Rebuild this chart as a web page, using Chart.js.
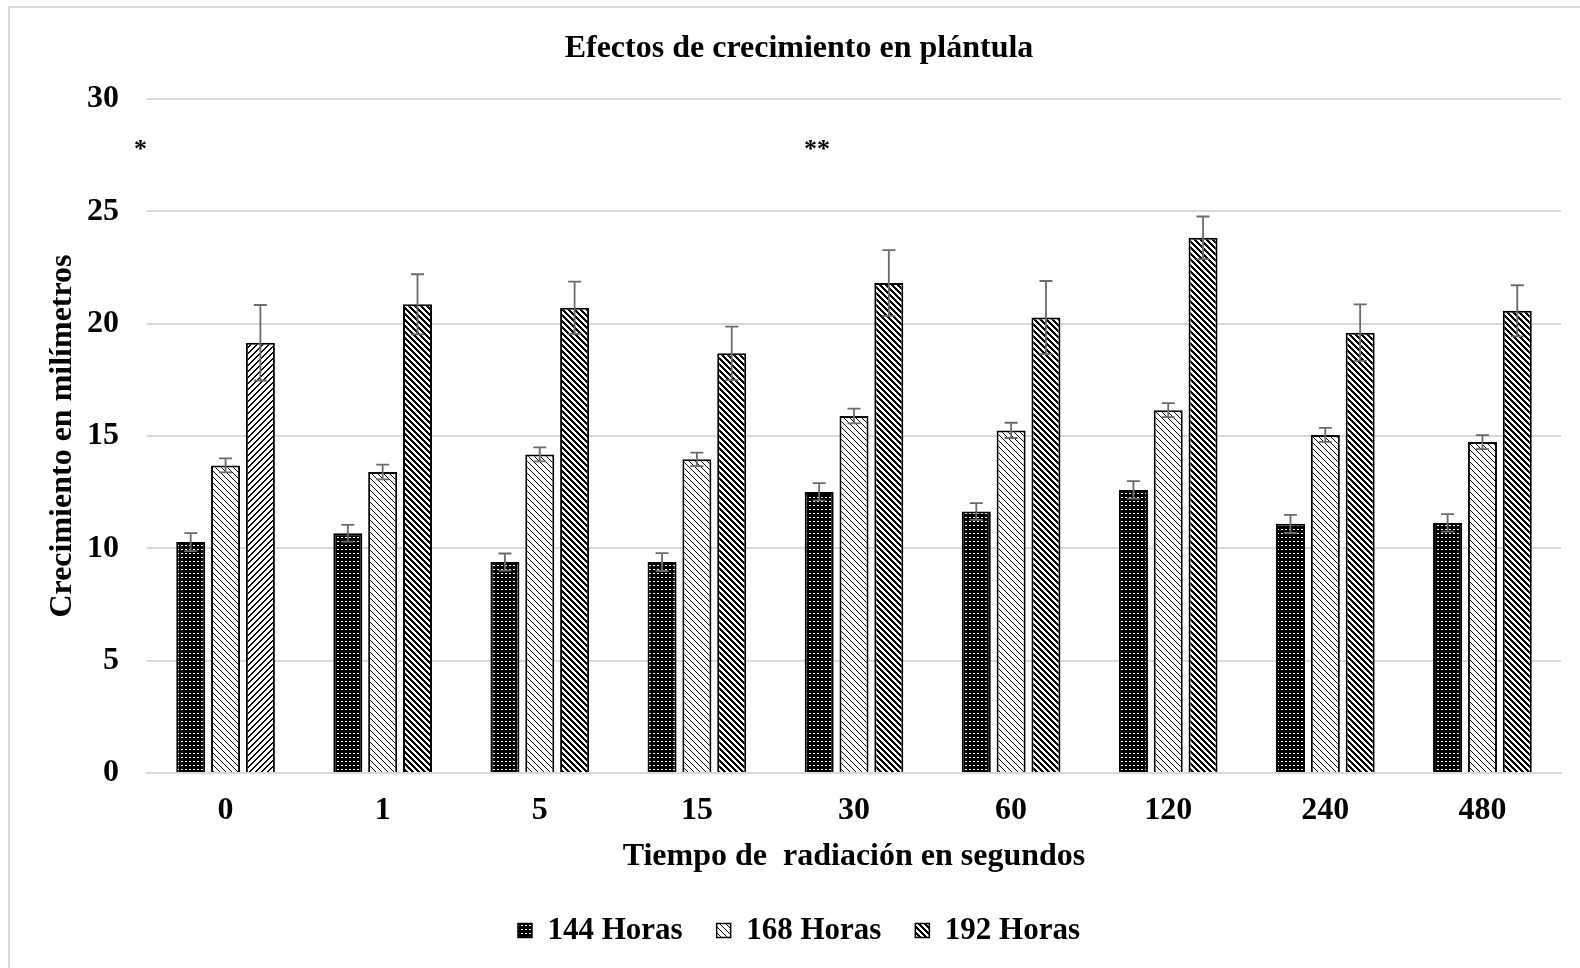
<!DOCTYPE html>
<html>
<head>
<meta charset="utf-8">
<script src="https://cdn.jsdelivr.net/npm/chart.js@4"></script>
<style>
  html, body { margin: 0; padding: 0; background: #fff; overflow: hidden; }
  #wrap { position: relative; width: 1580px; height: 968px; }
  #frame { position: absolute; left: 8px; top: 6px; width: 1600px; height: 1000px;
           border: 2px solid #d9d9d9; pointer-events: none; }
</style>
</head>
<body>
<div id="wrap">
  <canvas id="growthChart" width="1580" height="968"></canvas>
  <div id="frame"></div>
</div>
<script>
// categorias (segundos de radiacion)
const categories = ['0', '1', '5', '15', '30', '60', '120', '240', '480'];

// medias por serie
const h144 = [10.28, 10.67, 9.39, 9.39, 12.51, 11.64, 12.60, 11.09, 11.13];
const h168 = [13.69, 13.40, 14.18, 13.96, 15.89, 15.25, 16.15, 15.05, 14.73];
const h192 = [19.15, 20.86, 20.71, 18.68, 21.81, 20.27, 23.82, 19.60, 20.57];

// barras de error
const err144 = [0.40, 0.37, 0.38, 0.40, 0.39, 0.37, 0.39, 0.40, 0.39];
const err168 = [0.31, 0.33, 0.31, 0.30, 0.33, 0.34, 0.31, 0.31, 0.31];
const err192 = [1.68, 1.34, 1.16, 1.19, 1.46, 1.63, 0.95, 1.26, 1.14];

const yTicks = [0, 5, 10, 15, 20, 25, 30];

// asteriscos de significancia
const marks = [
    { text: '*', cat: 0, dx: -85, value: 27.7 },
    { text: '**', cat: 4, dx: -37, value: 27.7 }
];

const serif = "'Liberation Serif', 'Times New Roman', serif";

function makePattern(size, isBlack, bg, fg) {
    const c = document.createElement('canvas');
    c.width = size; c.height = size;
    const g = c.getContext('2d');
    g.fillStyle = bg;
    g.fillRect(0, 0, size, size);
    g.fillStyle = fg;
    for (let y = 0; y < size; y++) {
        for (let x = 0; x < size; x++) {
            if (isBlack(x, y)) g.fillRect(x, y, 1, 1);
        }
    }
    return g.createPattern(c, 'repeat');
}

const mod = (a, n) => ((a % n) + n) % n;
// punteado: negro con puntos blancos
const patDots = makePattern(4, (x, y) => (x === 1 || x === 2) && y === 1, '#000', '#fff');
// diagonal fina "\"
const patLight = makePattern(6, (x, y) => mod(x - y, 6) === 0, '#fff', '#000');
// diagonal ancha "\"
const patWide = makePattern(6, (x, y) => mod(x - y, 6) < 3, '#fff', '#000');
// diagonal ancha "/" (primer grupo)
const patWideUp = makePattern(6, (x, y) => mod(x + y, 6) < 2, '#fff', '#000');
const legendFills = [patDots, patLight, patWide];

const errorBars = {
    id: 'errorBars',
    afterDatasetsDraw(chart) {
        const ctx = chart.ctx;
        const yScale = chart.scales.y;
        const errs = [err144, err168, err192];
        ctx.save();
        ctx.strokeStyle = '#6b6b6b';
        ctx.lineWidth = 1.8;
        chart.data.datasets.forEach((ds, i) => {
            const meta = chart.getDatasetMeta(i);
            meta.data.forEach((bar, j) => {
                const v = ds.data[j];
                const e = errs[i][j];
                const yTop = yScale.getPixelForValue(v + e);
                const yBot = yScale.getPixelForValue(v - e);
                ctx.beginPath();
                ctx.moveTo(bar.x, yTop);
                ctx.lineTo(bar.x, yBot);
                ctx.moveTo(bar.x - 6.5, yTop);
                ctx.lineTo(bar.x + 6.5, yTop);
                ctx.moveTo(bar.x - 6.5, yBot);
                ctx.lineTo(bar.x + 6.5, yBot);
                ctx.stroke();
            });
        });
        ctx.restore();
    }
};

const asterisks = {
    id: 'asterisks',
    afterDraw(chart) {
        const ctx = chart.ctx;
        const xs = chart.scales.x, ys = chart.scales.y;
        ctx.save();
        ctx.fillStyle = '#000';
        ctx.font = 'bold 26px ' + serif;
        ctx.textAlign = 'center';
        ctx.textBaseline = 'middle';
        marks.forEach(m => {
            ctx.fillText(m.text, xs.getPixelForValue(m.cat) + m.dx, ys.getPixelForValue(m.value));
        });
        ctx.restore();
    }
};

new Chart(document.getElementById('growthChart').getContext('2d'), {
    type: 'bar',
    data: {
        labels: categories,
        datasets: [
            { label: '144 Horas', data: h144, backgroundColor: patDots },
            { label: '168 Horas', data: h168, backgroundColor: patLight },
            {
                label: '192 Horas', data: h192,
                backgroundColor: c => (c.type === 'data' && c.dataIndex === 0) ? patWideUp : patWide
            }
        ]
    },
    options: {
        responsive: false,
        animation: false,
        devicePixelRatio: 1,
        layout: { padding: { left: 37, right: 19, top: 0, bottom: 12 } },
        datasets: {
            bar: {
                borderColor: '#000',
                borderWidth: 2,
                categoryPercentage: 0.665,
                barPercentage: 0.833
            }
        },
        plugins: {
            title: {
                display: true,
                text: 'Efectos de crecimiento en plántula',
                color: '#000',
                font: { family: serif, size: 32, weight: 'bold' },
                padding: { top: 30, bottom: 30.6 }
            },
            legend: {
                position: 'bottom',
                labels: {
                    color: '#000',
                    font: { family: serif, size: 31, weight: 'bold' },
                    boxWidth: 14,
                    boxHeight: 14,
                    padding: 34,
                    generateLabels: chart => {
                        const items = Chart.defaults.plugins.legend.labels.generateLabels(chart);
                        items.forEach((it, i) => { it.fillStyle = legendFills[i]; it.lineWidth = 1.5; });
                        return items;
                    }
                }
            },
            tooltip: { enabled: false }
        },
        scales: {
            x: {
                afterFit: s => { s.height = 108; },
                grid: { display: false, drawTicks: false },
                border: { color: '#d9d9d9', width: 2 },
                ticks: {
                    color: '#000',
                    font: { family: serif, size: 32, weight: 'bold' },
                    padding: 19
                },
                title: {
                    display: true,
                    text: 'Tiempo de  radiación en segundos',
                    color: '#000',
                    font: { family: serif, size: 32, weight: 'bold' },
                    padding: { top: 8, bottom: 5 }
                }
            },
            y: {
                min: 0,
                max: 30,
                afterBuildTicks: s => { s.ticks = yTicks.map(v => ({ value: v })); },
                afterFit: s => { s.width = 110; },
                grid: { color: '#d9d9d9', lineWidth: 2, drawTicks: false },
                border: { display: false },
                ticks: {
                    color: '#000',
                    font: { family: serif, size: 32, weight: 'bold' },
                    padding: 28
                },
                title: {
                    display: true,
                    text: 'Crecimiento en milímetros',
                    color: '#000',
                    font: { family: serif, size: 32, weight: 'bold' },
                    padding: { top: 6.5, bottom: 0 }
                }
            }
        }
    },
    plugins: [errorBars, asterisks]
});
</script>
</body>
</html>
